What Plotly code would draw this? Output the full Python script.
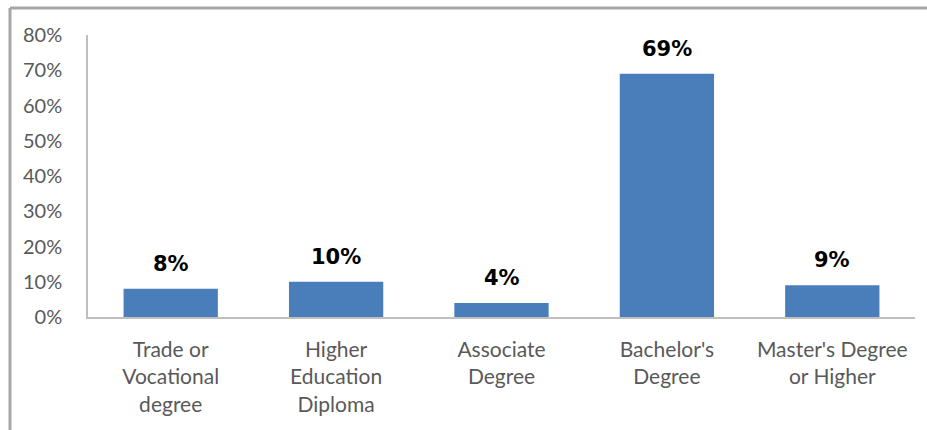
import plotly.graph_objects as go

# Highest degree earned: share of respondents per category
categories = [
    "Trade or<br>Vocational<br>degree",
    "Higher<br>Education<br>Diploma",
    "Associate<br>Degree",
    "Bachelor's<br>Degree",
    "Master's Degree<br>or Higher",
]
shares = [8, 10, 4, 69, 9]
y_ticks = [0, 10, 20, 30, 40, 50, 60, 70, 80]

BAR_BLUE = "#4a7ebb"
AXIS_GRAY = "#bfbfbf"
TEXT_GRAY = "#595959"

fig = go.Figure(
    go.Bar(
        x=categories,
        y=shares,
        marker=dict(color=BAR_BLUE, line=dict(width=0)),
        hoverinfo="skip",
    )
)

# Value labels above each bar
for cat, val in zip(categories, shares):
    fig.add_annotation(
        x=cat,
        y=val,
        text=f"{val}%",
        showarrow=False,
        yanchor="bottom",
        yshift=11,
        font=dict(family="DejaVu Sans", size=21, color="#000000", weight="bold"),
    )

# Outer chart frame (left and top edges)
W, H = 927, 430
ml, mr, mt, mb = 88, 12, 35, 113
pw, ph = W - ml - mr, H - mt - mb


def px_x(x):
    return (x - ml) / pw


def px_y(y):
    return (H - mb - y) / ph


fig.add_shape(
    type="line", xref="paper", yref="paper",
    x0=px_x(10), x1=px_x(10), y0=px_y(8), y1=px_y(440),
    line=dict(color="#a6a6a6", width=3),
)
fig.add_shape(
    type="line", xref="paper", yref="paper",
    x0=px_x(10), x1=px_x(940), y0=px_y(8), y1=px_y(8),
    line=dict(color="#a6a6a6", width=3),
)

fig.update_layout(
    width=W,
    height=H,
    margin=dict(l=ml, r=mr, t=mt, b=mb),
    paper_bgcolor="#ffffff",
    plot_bgcolor="#ffffff",
    bargap=0.43,
    showlegend=False,
    xaxis=dict(
        showline=True,
        linecolor=AXIS_GRAY,
        linewidth=1.5,
        ticks="",
        showgrid=False,
        tickfont=dict(family="Lato", size=21, color=TEXT_GRAY),
        ticklabelstandoff=13,
        fixedrange=True,
    ),
    yaxis=dict(
        range=[0, 80],
        tickvals=y_ticks,
        ticktext=[f"{t}%" for t in y_ticks],
        showline=True,
        linecolor=AXIS_GRAY,
        linewidth=1.5,
        ticks="",
        showgrid=False,
        zeroline=False,
        tickfont=dict(family="Lato", size=20, color=TEXT_GRAY),
        ticklabelstandoff=20,
        fixedrange=True,
    ),
)

fig.write_html("out.html")
